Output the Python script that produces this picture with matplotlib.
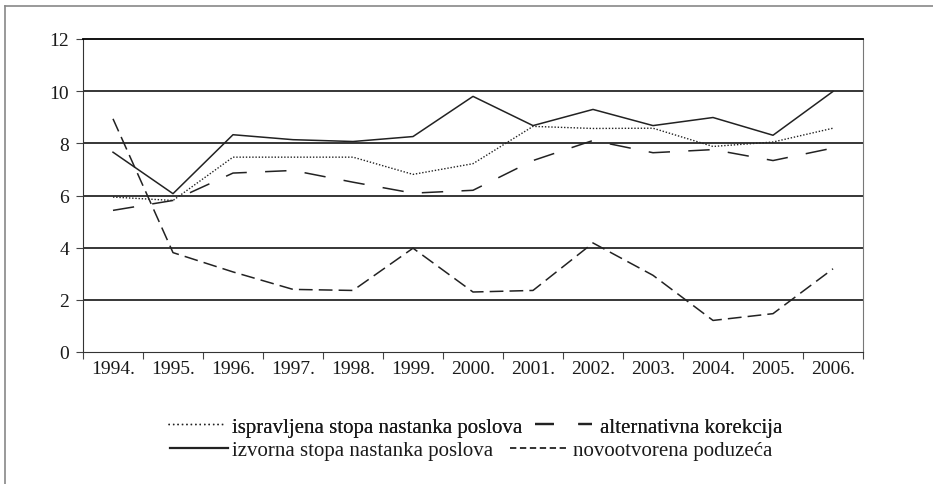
import matplotlib
matplotlib.use('Agg')
import matplotlib.pyplot as plt
from matplotlib.lines import Line2D
import numpy as np

plt.rcParams['font.family'] = ['Liberation Serif', 'DejaVu Serif']

years = ['1994.', '1995.', '1996.', '1997.', '1998.', '1999.', '2000.',
         '2001.', '2002.', '2003.', '2004.', '2005.', '2006.']
ispravljena = [5.94, 5.81, 7.47, 7.47, 7.47, 6.81, 7.22, 8.65, 8.57, 8.58, 7.88, 8.05, 8.58]
izvorna = [7.66, 6.07, 8.33, 8.14, 8.07, 8.26, 9.80, 8.68, 9.30, 8.68, 8.99, 8.31, 9.99]
alternativna = [5.43, 5.81, 6.86, 6.96, 6.51, 6.09, 6.20, 7.34, 8.11, 7.64, 7.76, 7.34, 7.82]
novootvorena = [8.94, 3.81, 3.07, 2.40, 2.36, 3.98, 2.30, 2.36, 4.18, 2.94, 1.21, 1.47, 3.19]

labels = ['ispravljena stopa nastanka poslova', 'alternativna korekcija',
          'izvorna stopa nastanka poslova', 'novootvorena poduzeća']

txt = '#1a1a1a'
lc = '#222222'
fig = plt.figure(figsize=(9.33, 4.85), dpi=100)
ax = fig.add_axes([83 / 933, 1 - 353 / 485, 780 / 933, 313 / 485])

x = np.arange(len(years))
ax.plot(x, ispravljena, color=lc, lw=1.0, linestyle=(0, (1, 1.3)))
ax.plot(x, izvorna, color=lc, lw=1.1, linestyle='-')
ax.plot(x, alternativna, color=lc, lw=1.1, linestyle=(0, (14, 12)))
ax.plot(x, novootvorena, color=lc, lw=1.1, linestyle=(0, (9, 4)))

ax.set_xlim(-0.5, len(years) - 0.5)
ax.set_ylim(0, 12)
ax.set_yticks(np.arange(0, 13, 2))
for v in range(2, 12, 2):
    ax.axhline(v, color='black', lw=1.1, zorder=0)

ax.set_xticks(np.arange(-0.5, len(years)), labels=[''] * (len(years) + 1))
ax.set_xticks(x, labels=years, minor=True)
ax.tick_params(axis='x', which='major', length=5, direction='out', color='#444444')
ax.tick_params(axis='x', which='minor', length=0, pad=6, labelsize=14, labelcolor=txt)
ax.tick_params(axis='y', length=5, direction='out', pad=5, labelsize=14,
               labelcolor=txt, color='#444444')

ax.spines['top'].set_color('black')
ax.spines['top'].set_linewidth(1.3)
ax.spines['left'].set_color('#333333')
ax.spines['bottom'].set_color('#333333')
ax.spines['right'].set_color('#777777')

# legend handles (drawn a bit bolder, like in the original)
h_isp = Line2D([], [], color=lc, lw=1.0, linestyle=(0, (1, 2.2)))
h_alt = Line2D([], [], color=lc, lw=1.6, linestyle=(0, (8.5, 11)))
h_izv = Line2D([], [], color=lc, lw=1.6, linestyle='-')
h_nov = Line2D([], [], color=lc, lw=1.3, linestyle=(0, (3.5, 2)))

# legend drawn as two centered rows
leg1 = fig.legend([h_isp, h_alt], labels[:2], ncol=2, loc='center',
                  bbox_to_anchor=(475 / 933, 1 - 428 / 485), frameon=False,
                  fontsize=15, handlelength=2.75, handletextpad=0.35,
                  columnspacing=0.6, labelcolor=txt, borderpad=0)
leg2 = fig.legend([h_izv, h_nov], labels[2:], ncol=2, loc='center',
                  bbox_to_anchor=(471 / 933, 1 - 451 / 485), frameon=False,
                  fontsize=15, handlelength=2.8, handletextpad=0.2,
                  columnspacing=0.8, labelcolor=txt, borderpad=0)
fig.add_artist(leg1)

# outer frame (top and left edges)
fig.add_artist(Line2D([5 / 933, 1], [1 - 7 / 485, 1 - 7 / 485], color='#888888', lw=1.2))
fig.add_artist(Line2D([5 / 933, 5 / 933], [0, 1 - 7 / 485], color='#888888', lw=1.2))

fig.savefig('out.png', dpi=100)
